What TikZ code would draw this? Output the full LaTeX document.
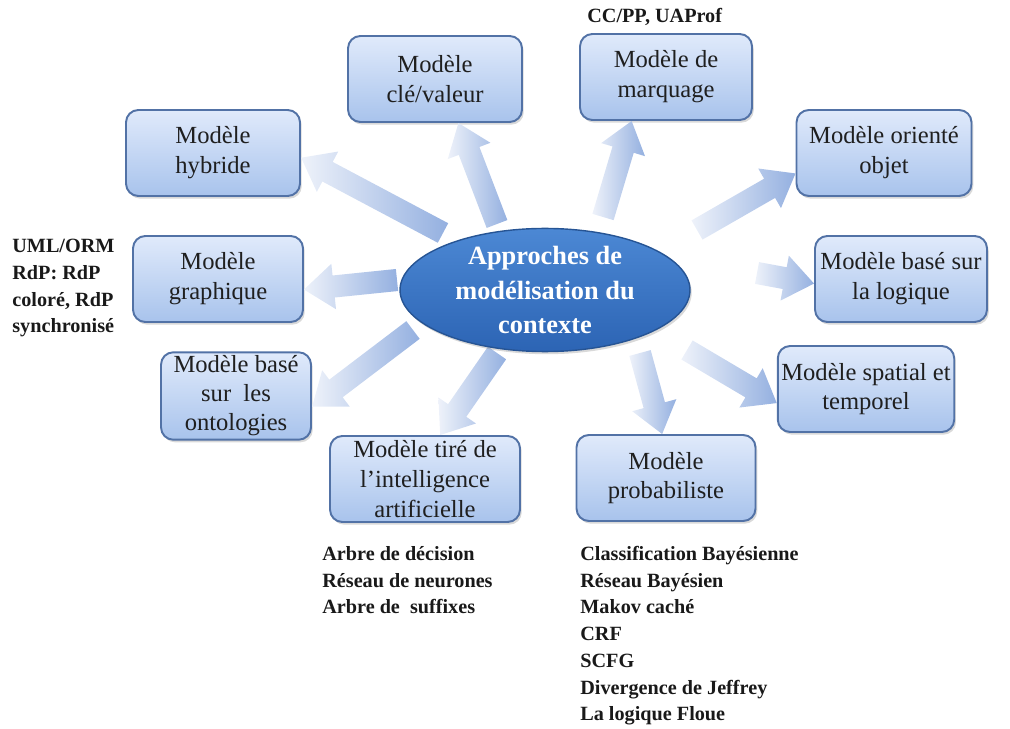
\documentclass[tikz,border=0pt]{standalone}
\usepackage{fontspec}
\setmainfont{Liberation Serif}
\usetikzlibrary{calc,shapes.geometric,shadows}

\definecolor{boxtop}{RGB}{224,234,251}
\definecolor{boxbot}{RGB}{168,195,236}
\definecolor{boxedge}{RGB}{82,114,166}
\definecolor{elltop}{RGB}{76,136,212}
\definecolor{ellbot}{RGB}{44,100,180}
\definecolor{elledge}{RGB}{38,84,148}
\definecolor{flpale}{RGB}{238,242,250}
\definecolor{flblue}{RGB}{148,176,224}

\tikzset{
  modele/.style={draw=boxedge, line width=1.1pt, rounded corners=7pt,
    top color=boxtop, bottom color=boxbot, align=center, text=black!88,
    font=\fontsize{14}{17}\selectfont, minimum height=1.72cm, inner sep=2pt,
    drop shadow={shadow xshift=1pt, shadow yshift=-1.5pt, opacity=.3}},
  liste/.style={align=left, inner sep=0pt, text=black!90,
    font=\bfseries\fontsize{11.5}{15.2}\selectfont}
}

% block arrow from #1 to #2, shaded along its length
\newcommand{\fleche}[2]{%
  \path let \p1=($(#2)-(#1)$) in
    \pgfextra{\pgfmathsetmacro\fang{atan2(\y1,\x1)}\pgfmathsetmacro\flen{veclen(\x1,\y1)}%
      \xdef\fang{\fang}\xdef\flen{\flen}};
  \begin{scope}[shift={(#1)}, rotate=\fang, x=1pt, y=1pt]
    \shade[left color=flpale, right color=flblue]
      (0,-6.3) -- (\flen-17,-6.3) -- (\flen-17,-13) -- (\flen,0)
      -- (\flen-17,13) -- (\flen-17,6.3) -- (0,6.3) -- cycle;
  \end{scope}}

\begin{document}
\begin{tikzpicture}[x=0.02cm, y=-0.02cm]
  \useasboundingbox (0,0) rectangle (1010,729);

  % boxes
  \node[modele, minimum width=3.48cm] (kv)    at (435,79)  {Modèle\\clé/valeur};
  \node[modele, minimum width=3.44cm] (marq)  at (666,77)  {Modèle de\\marquage};
  \node[modele, minimum width=3.48cm] (hyb)   at (213,153) {Modèle\\hybride};
  \node[modele, minimum width=3.50cm] (obj)   at (884,153) {Modèle orienté\\objet};
  \node[modele, minimum width=3.40cm] (graph) at (218,279) {Modèle\\graphique};
  \node[modele, minimum width=3.44cm] (logi)  at (901,279) {Modèle basé sur\\la logique};
  \node[modele, minimum width=3.00cm, font=\fontsize{14}{16.5}\selectfont] (onto) at (236,396) {Modèle basé\\sur\ \ les\\ontologies};
  \node[modele, minimum width=3.42cm] (spat)  at (866,389) {Modèle spatial et\\temporel};
  \node[modele, minimum width=3.80cm] (ia)    at (425,479) {Modèle tiré de\\l’intelligence\\artificielle};
  \node[modele, minimum width=3.58cm] (prob)  at (666,478) {Modèle\\probabiliste};

  % arrow feet
  \coordinate (p-hyb)   at (443,233);
  \coordinate (p-kv)    at (497,224);
  \coordinate (p-marq)  at (603,217);
  \coordinate (p-obj)   at (697,230);
  \coordinate (p-logi)  at (757,273);
  \coordinate (p-spat)  at (687,350);
  \coordinate (p-prob)  at (640,353);
  \coordinate (p-ia)    at (497,353);
  \coordinate (p-onto)  at (413,330);
  \coordinate (p-graph) at (397,280);

  \fleche{p-hyb}{hyb.-3}
  \fleche{p-kv}{kv.-62}
  \fleche{p-marq}{marq.-128}
  \fleche{p-obj}{obj.193}
  \fleche{p-logi}{logi.183}
  \fleche{p-spat}{spat.189}
  \fleche{p-prob}{prob.95}
  \fleche{p-ia}{ia.71}
  \fleche{p-onto}{onto.-8}
  \fleche{p-graph}{graph.-7}

  % centre
  \node[ellipse, draw=elledge, line width=0.8pt, top color=elltop, bottom color=ellbot,
    minimum width=5.8cm, minimum height=2.4cm, inner sep=0pt, align=center, text=white,
    font=\bfseries\fontsize{15}{19.5}\selectfont,
    drop shadow={shadow xshift=1pt, shadow yshift=-1.5pt, opacity=.3}] (ctx) at (545,290)
    {Approches de\\modélisation du\\contexte};

  % notes
  \node[liste, anchor=west] (ccpp) at (587,17) {CC/PP, UAProf};
  \node[liste, anchor=north west] (uml) at (12,239) {UML/ORM\\RdP: RdP\\coloré, RdP\\synchronisé};
  \node[liste, anchor=north west] (lia) at (322,546) {Arbre de décision\\Réseau de neurones\\Arbre de\ \ suffixes};
  \node[liste, anchor=north west] (lprob) at (580,546) {Classification Bayésienne\\Réseau Bayésien\\Makov caché\\CRF\\SCFG\\Divergence de Jeffrey\\La logique Floue};
\end{tikzpicture}
\end{document}
